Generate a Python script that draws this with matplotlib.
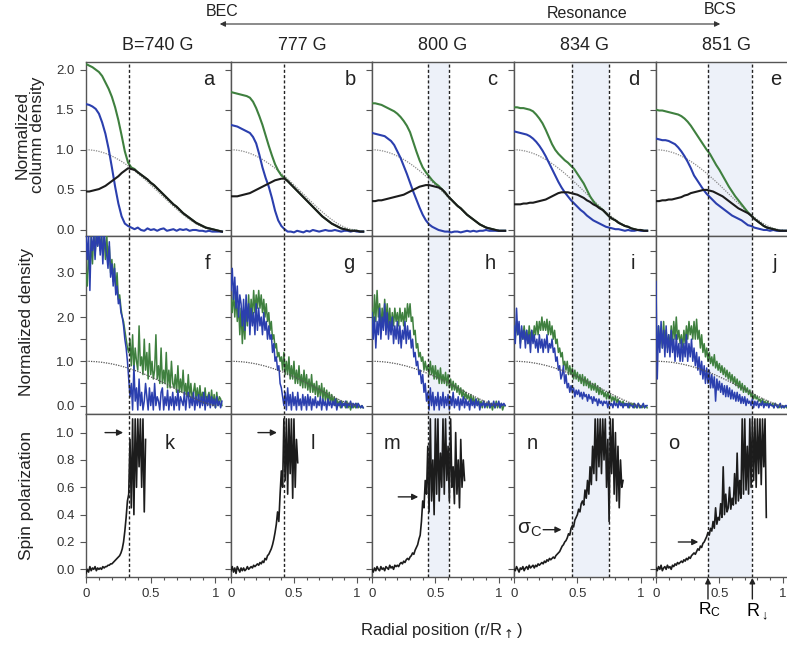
import numpy as np
import matplotlib
matplotlib.use("Agg")
import matplotlib.pyplot as plt
from matplotlib.ticker import MultipleLocator, FixedLocator

plt.rcParams['font.family'] = ['Liberation Sans', 'DejaVu Sans']

# ---------------- data ----------------
fields = ['B=740 G', '777 G', '800 G', '834 G', '851 G']
letters_top = ['a', 'b', 'c', 'd', 'e']
letters_mid = ['f', 'g', 'h', 'i', 'j']
letters_bot = ['k', 'l', 'm', 'n', 'o']
cut_lines = [[0.33], [0.42], [0.44, 0.61], [0.46, 0.75], [0.41, 0.76]]
shaded = [None, None, (0.44, 0.61), (0.46, 0.75), (0.41, 0.76)]

r_coarse = np.round(np.arange(0, 1.0501, 0.025), 3)   # 43 radii
r_fine = np.round(np.arange(0, 1.0501, 0.01), 3)      # 106 radii

# reference (non-interacting) profiles, column density and density
ref_col = [1.000, 0.999, 0.995, 0.989, 0.980, 0.969, 0.956, 0.940, 0.922, 0.901,
           0.879, 0.855, 0.828, 0.800, 0.770, 0.739, 0.706, 0.671, 0.636, 0.600,
           0.563, 0.525, 0.487, 0.448, 0.410, 0.371, 0.334, 0.296, 0.260, 0.225,
           0.191, 0.160, 0.130, 0.102, 0.077, 0.055, 0.036, 0.021, 0.010, 0.003,
           0.000]
ref_den = [1.000, 0.999, 0.996, 0.992, 0.985, 0.977, 0.966, 0.954, 0.941, 0.925,
           0.908, 0.889, 0.868, 0.846, 0.822, 0.797, 0.770, 0.742, 0.712, 0.681,
           0.650, 0.617, 0.583, 0.548, 0.512, 0.476, 0.439, 0.402, 0.364, 0.327,
           0.289, 0.252, 0.216, 0.180, 0.146, 0.113, 0.083, 0.055, 0.030, 0.011,
           0.000]

# Row 1: column densities (majority = green, minority = blue, difference = black)
green_a = [2.07, 2.05, 2.03, 2.00, 1.97, 1.92, 1.84, 1.76, 1.66, 1.53,
           1.37, 1.18, 0.98, 0.84, 0.78, 0.76, 0.72, 0.69, 0.66, 0.63,
           0.59, 0.56, 0.52, 0.48, 0.44, 0.40, 0.36, 0.32, 0.29, 0.25,
           0.21, 0.18, 0.15, 0.12, 0.09, 0.07, 0.05, 0.03, 0.02, 0.01,
           0.00, -0.01, -0.02]
black_a = [0.48, 0.48, 0.49, 0.50, 0.51, 0.53, 0.55, 0.58, 0.61, 0.64,
           0.67, 0.71, 0.74, 0.77, 0.76, 0.75, 0.72, 0.69, 0.66, 0.63,
           0.59, 0.56, 0.52, 0.48, 0.44, 0.40, 0.36, 0.32, 0.29, 0.25,
           0.21, 0.18, 0.15, 0.12, 0.09, 0.07, 0.05, 0.03, 0.02, 0.01,
           0.00, -0.01, -0.02]
blue_a = [1.57, 1.56, 1.54, 1.51, 1.45, 1.34, 1.20, 1.01, 0.78, 0.54,
          0.33, 0.17, 0.08, 0.05, 0.03, 0.01, 0.03, 0.00, -0.01, 0.02,
          0.00, 0.01, -0.01, 0.01, 0.02, -0.01, 0.00, 0.01, -0.01, 0.01,
          0.00, 0.01, -0.01, 0.00, 0.00, -0.01, -0.01, -0.02, -0.01, -0.02,
          -0.02, -0.02, -0.02]

green_b = [1.72, 1.71, 1.70, 1.69, 1.68, 1.67, 1.65, 1.60, 1.52, 1.42,
           1.31, 1.18, 1.05, 0.93, 0.82, 0.74, 0.68, 0.65, 0.61, 0.57,
           0.53, 0.49, 0.45, 0.41, 0.37, 0.33, 0.29, 0.25, 0.21, 0.17,
           0.14, 0.11, 0.08, 0.06, 0.04, 0.02, 0.01, 0.00, -0.01, -0.01,
           -0.01, -0.02, -0.02]
black_b = [0.42, 0.42, 0.42, 0.43, 0.44, 0.45, 0.46, 0.48, 0.50, 0.52,
           0.54, 0.56, 0.58, 0.60, 0.62, 0.63, 0.64, 0.64, 0.61, 0.57,
           0.53, 0.49, 0.45, 0.41, 0.37, 0.33, 0.29, 0.25, 0.21, 0.17,
           0.14, 0.11, 0.08, 0.06, 0.04, 0.02, 0.01, 0.00, -0.01, -0.01,
           -0.01, -0.02, -0.02]
blue_b = [1.31, 1.30, 1.29, 1.27, 1.25, 1.23, 1.21, 1.16, 1.08, 0.94,
          0.78, 0.65, 0.54, 0.40, 0.24, 0.12, 0.05, 0.01, -0.02, -0.02,
          -0.03, -0.01, -0.02, -0.03, -0.01, -0.02, 0.00, -0.01, -0.02, -0.01,
          0.00, -0.01, -0.01, 0.00, -0.01, -0.02, -0.01, -0.01, -0.02, -0.01,
          -0.02, -0.02, -0.02]

green_c = [1.58, 1.58, 1.57, 1.56, 1.54, 1.52, 1.50, 1.48, 1.45, 1.41,
           1.36, 1.30, 1.22, 1.10, 0.98, 0.87, 0.78, 0.72, 0.67, 0.62,
           0.58, 0.55, 0.51, 0.47, 0.42, 0.38, 0.34, 0.30, 0.27, 0.23,
           0.19, 0.16, 0.13, 0.10, 0.07, 0.05, 0.03, 0.02, 0.01, 0.00,
           -0.01, -0.01, -0.01]
black_c = [0.36, 0.36, 0.37, 0.37, 0.38, 0.39, 0.40, 0.41, 0.42, 0.43,
           0.44, 0.46, 0.48, 0.50, 0.52, 0.54, 0.55, 0.56, 0.56, 0.55,
           0.54, 0.53, 0.51, 0.47, 0.42, 0.38, 0.34, 0.30, 0.27, 0.23,
           0.19, 0.16, 0.13, 0.10, 0.07, 0.05, 0.03, 0.02, 0.01, 0.00,
           -0.01, -0.01, -0.01]
blue_c = [1.21, 1.20, 1.19, 1.18, 1.17, 1.14, 1.11, 1.06, 0.98, 0.90,
          0.80, 0.70, 0.59, 0.48, 0.38, 0.28, 0.19, 0.12, 0.07, 0.04,
          0.02, 0.00, -0.01, -0.02, -0.02, -0.03, -0.02, -0.02, -0.03, -0.02,
          -0.01, -0.02, -0.01, -0.02, -0.01, -0.01, 0.00, -0.01, -0.01, -0.01,
          -0.01, -0.01, -0.01]

green_d = [1.53, 1.53, 1.52, 1.52, 1.51, 1.50, 1.48, 1.44, 1.39, 1.33,
           1.25, 1.16, 1.07, 1.00, 0.95, 0.91, 0.87, 0.84, 0.80, 0.76,
           0.70, 0.64, 0.58, 0.50, 0.42, 0.36, 0.31, 0.28, 0.25, 0.21,
           0.17, 0.14, 0.12, 0.09, 0.07, 0.05, 0.04, 0.02, 0.01, 0.00,
           0.00, -0.01, -0.01]
black_d = [0.32, 0.32, 0.32, 0.33, 0.33, 0.34, 0.34, 0.35, 0.36, 0.37,
           0.38, 0.40, 0.42, 0.44, 0.46, 0.47, 0.47, 0.47, 0.46, 0.45,
           0.44, 0.42, 0.40, 0.37, 0.35, 0.32, 0.30, 0.27, 0.25, 0.21,
           0.17, 0.14, 0.12, 0.09, 0.07, 0.05, 0.04, 0.02, 0.01, 0.00,
           0.00, -0.01, -0.01]
blue_d = [1.23, 1.22, 1.21, 1.20, 1.19, 1.17, 1.14, 1.10, 1.05, 0.99,
          0.92, 0.84, 0.76, 0.68, 0.60, 0.53, 0.47, 0.42, 0.37, 0.33,
          0.29, 0.25, 0.22, 0.18, 0.15, 0.12, 0.10, 0.08, 0.06, 0.04,
          0.03, 0.02, 0.01, 0.01, 0.00, -0.01, 0.00, -0.01, -0.01, 0.00,
          -0.01, -0.01, -0.01]

green_e = [1.50, 1.49, 1.49, 1.48, 1.47, 1.46, 1.45, 1.44, 1.42, 1.39,
           1.35, 1.30, 1.24, 1.18, 1.12, 1.06, 1.00, 0.95, 0.88, 0.81,
           0.75, 0.68, 0.61, 0.54, 0.48, 0.42, 0.37, 0.32, 0.27, 0.22,
           0.18, 0.14, 0.11, 0.08, 0.05, 0.03, 0.02, 0.01, 0.00, -0.01,
           -0.01, -0.01, -0.01]
black_e = [0.36, 0.36, 0.37, 0.37, 0.38, 0.38, 0.39, 0.40, 0.41, 0.43,
           0.44, 0.46, 0.47, 0.48, 0.49, 0.50, 0.50, 0.49, 0.48, 0.46,
           0.44, 0.42, 0.39, 0.36, 0.33, 0.30, 0.27, 0.25, 0.23, 0.21,
           0.18, 0.14, 0.11, 0.08, 0.05, 0.03, 0.02, 0.01, 0.00, -0.01,
           -0.01, -0.01, -0.01]
blue_e = [1.14, 1.13, 1.12, 1.12, 1.11, 1.09, 1.07, 1.03, 0.98, 0.92,
          0.85, 0.77, 0.68, 0.62, 0.56, 0.50, 0.45, 0.41, 0.37, 0.33,
          0.30, 0.27, 0.24, 0.21, 0.18, 0.16, 0.14, 0.12, 0.09, 0.06,
          0.05, 0.03, 0.02, 0.01, 0.00, 0.00, -0.01, 0.00, -0.01, -0.01,
          -0.01, -0.01, -0.01]

# Row 2: reconstructed 3D densities (majority green, minority blue)
dgreen_f = [3.0, 2.7, 3.5, 2.9, 3.8, 3.2, 3.9, 3.4, 3.9, 3.6,
            3.9, 3.5, 3.9, 3.4, 3.8, 3.3, 3.9, 3.2, 3.6, 3.0,
            3.3, 2.8, 3.2, 2.6, 3.0, 2.4, 2.5, 2.2, 2.0, 1.9,
            1.7, 1.5, 1.3, 1.2, 1.5, 0.9, 1.6, 0.8, 1.3, 1.0,
            0.8, 1.8, 0.9, 1.1, 0.7, 1.5, 0.8, 1.2, 0.6, 1.4,
            0.7, 1.0, 0.6, 0.8, 1.6, 0.6, 0.9, 0.5, 1.3, 0.5,
            0.8, 0.5, 1.2, 0.4, 0.8, 0.4, 1.0, 0.5, 0.4, 0.7,
            0.3, 0.9, 0.3, 0.6, 0.3, 0.8, 0.25, 0.5, 0.2, 0.7,
            0.2, 0.5, 0.15, 0.3, 0.5, 0.15, 0.4, 0.1, 0.45, 0.1,
            0.3, 0.05, 0.4, 0.05, 0.2, 0.3, 0.0, 0.35, 0.0, 0.25,
            -0.05, 0.3, 0.0, 0.2, 0.15, 0.0]
dblue_f = [3.9, 3.3, 3.9, 2.6, 3.8, 3.5, 3.9, 3.3, 3.9, 3.6,
           3.9, 3.4, 3.9, 3.2, 3.9, 3.6, 3.4, 3.1, 3.7, 2.9,
           3.2, 2.7, 3.1, 2.5, 2.7, 2.3, 2.4, 2.1, 2.0, 1.8,
           1.5, 1.3, 1.0, 0.6, 0.2, 0.5, -0.1, 0.9, 0.1, 0.4,
           -0.1, 0.6, 0.0, 0.3, -0.1, 0.1, 0.5, 0.2, -0.1, 0.4,
           0.0, 0.3, -0.1, 0.5, 0.0, 0.2, 0.1, -0.1, 0.3, 0.4,
           -0.1, 0.2, 0.0, 0.35, -0.1, 0.2, 0.0, 0.3, -0.1, 0.2,
           0.0, 0.35, -0.1, 0.2, 0.1, 0.0, 0.3, -0.1, 0.2, 0.3,
           -0.05, 0.2, 0.0, 0.3, -0.1, 0.2, 0.0, 0.25, -0.05, 0.2,
           0.0, 0.3, -0.1, 0.2, 0.0, 0.25, -0.05, 0.2, 0.0, 0.15,
           -0.05, 0.2, 0.0, 0.1, -0.05, 0.1]

dgreen_g = [2.4, 2.1, 2.6, 2.0, 2.5, 1.9, 2.3, 1.6, 2.2, 1.4,
            2.0, 1.5, 2.3, 1.8, 2.5, 1.9, 2.4, 2.0, 2.6, 2.1,
            2.5, 2.2, 2.6, 2.2, 2.5, 2.1, 2.4, 2.0, 2.3, 1.9,
            2.1, 1.7, 1.9, 1.5, 1.6, 1.3, 1.4, 1.1, 1.2, 1.0,
            1.1, 0.8, 1.2, 0.7, 1.0, 0.7, 1.1, 0.6, 0.9, 0.6,
            1.0, 0.5, 0.8, 0.5, 0.9, 0.45, 0.7, 0.4, 0.8, 0.4,
            0.7, 0.35, 0.6, 0.3, 0.7, 0.3, 0.5, 0.25, 0.55, 0.2,
            0.45, 0.2, 0.5, 0.15, 0.4, 0.1, 0.35, 0.1, 0.3, 0.05,
            0.25, 0.05, 0.2, 0.0, 0.15, 0.0, 0.1, -0.05, 0.1, 0.0,
            0.05, -0.05, 0.1, -0.05, 0.05, -0.1, 0.05, -0.05, 0.0, -0.05,
            0.05, -0.05, 0.0, -0.05, 0.0, -0.05]
dblue_g = [2.6, 3.1, 2.4, 2.9, 2.2, 2.7, 2.0, 2.5, 2.3, 1.8,
           2.4, 1.7, 2.5, 1.9, 2.3, 1.6, 2.2, 1.8, 2.1, 1.6,
           2.3, 1.7, 2.2, 1.8, 2.0, 1.6, 2.1, 1.7, 1.9, 1.5,
           1.8, 1.5, 1.6, 1.2, 1.4, 1.0, 1.1, 0.8, 0.9, 0.5,
           0.4, 0.2, 0.0, 0.3, -0.1, 0.4, 0.0, 0.25, -0.1, 0.3,
           0.0, 0.2, -0.1, 0.3, 0.0, 0.15, -0.1, 0.25, 0.0, 0.2,
           -0.1, 0.25, 0.0, 0.2, -0.1, 0.15, 0.0, 0.2, -0.05, 0.1,
           0.0, 0.2, -0.1, 0.15, 0.0, 0.1, -0.1, 0.15, 0.0, 0.1,
           -0.05, 0.1, 0.0, 0.15, -0.1, 0.05, 0.0, 0.1, -0.05, 0.05,
           0.0, 0.1, -0.05, 0.05, 0.0, 0.1, -0.05, 0.05, 0.0, 0.05,
           -0.05, 0.05, 0.0, -0.05, 0.0, -0.05]

dgreen_h = [2.2, 1.8, 2.5, 1.9, 2.6, 2.0, 2.3, 1.7, 2.2, 1.8,
            2.4, 1.9, 2.3, 1.8, 2.2, 1.7, 2.1, 1.8, 2.2, 1.9,
            2.1, 1.8, 2.2, 1.9, 2.1, 1.8, 2.2, 1.9, 2.3, 2.0,
            2.3, 1.9, 2.0, 1.6, 1.7, 1.3, 1.4, 1.1, 1.2, 1.0,
            1.1, 0.8, 1.0, 0.8, 0.9, 0.7, 1.0, 0.7, 0.9, 0.6,
            0.9, 0.6, 0.8, 0.5, 0.85, 0.5, 0.7, 0.5, 0.75, 0.45,
            0.7, 0.4, 0.6, 0.35, 0.55, 0.35, 0.5, 0.3, 0.45, 0.25,
            0.4, 0.2, 0.35, 0.15, 0.3, 0.15, 0.25, 0.1, 0.25, 0.05,
            0.2, 0.05, 0.15, 0.0, 0.15, 0.0, 0.1, -0.05, 0.1, 0.0,
            0.05, -0.05, 0.1, -0.05, 0.05, -0.1, 0.05, -0.05, 0.1, -0.05,
            0.05, -0.05, 0.05, -0.1, 0.0, 0.0]
dblue_h = [2.1, 1.5, 2.0, 1.3, 1.9, 1.6, 2.2, 1.5, 2.0, 1.7,
           2.3, 1.6, 2.1, 1.5, 1.9, 1.6, 2.0, 1.4, 1.8, 1.5,
           1.9, 1.4, 1.8, 1.3, 1.7, 1.5, 1.9, 1.4, 1.8, 1.5,
           1.7, 1.3, 1.5, 1.1, 1.2, 0.9, 1.0, 0.7, 0.8, 0.5,
           0.7, 0.3, 0.5, 0.1, 0.3, -0.1, 0.4, 0.0, 0.3, -0.1,
           0.2, 0.0, 0.3, -0.1, 0.2, 0.0, 0.3, -0.05, 0.2, 0.0,
           0.25, -0.1, 0.2, 0.0, 0.3, -0.05, 0.15, 0.0, 0.2, -0.1,
           0.15, 0.0, 0.2, -0.05, 0.15, 0.0, 0.1, -0.1, 0.15, 0.0,
           0.1, -0.05, 0.15, 0.0, 0.1, -0.1, 0.05, 0.0, 0.1, -0.05,
           0.05, 0.0, 0.1, -0.05, 0.05, 0.0, 0.1, -0.05, 0.05, 0.0,
           0.1, -0.05, 0.05, 0.0, 0.05, 0.0]

dgreen_i = [1.8, 1.5, 1.9, 1.6, 1.8, 1.4, 1.7, 1.5, 1.8, 1.5,
            1.7, 1.4, 1.8, 1.5, 1.7, 1.5, 1.8, 1.6, 1.9, 1.6,
            1.9, 1.7, 2.0, 1.7, 1.9, 1.7, 1.95, 1.6, 1.9, 1.6,
            1.8, 1.5, 1.7, 1.4, 1.5, 1.2, 1.3, 1.1, 1.2, 0.9,
            1.0, 0.8, 1.0, 0.7, 0.9, 0.7, 0.85, 0.6, 0.8, 0.6,
            0.75, 0.55, 0.7, 0.5, 0.7, 0.45, 0.65, 0.45, 0.6, 0.4,
            0.55, 0.35, 0.5, 0.35, 0.5, 0.3, 0.45, 0.25, 0.4, 0.25,
            0.35, 0.2, 0.3, 0.15, 0.3, 0.15, 0.25, 0.1, 0.2, 0.1,
            0.2, 0.05, 0.15, 0.05, 0.1, 0.0, 0.1, 0.0, 0.05, 0.0,
            0.05, -0.05, 0.05, 0.0, 0.05, -0.05, 0.0, -0.05, 0.05, -0.05,
            0.0, -0.05, 0.0, -0.05, 0.0, -0.05]
dblue_i = [1.8, 1.4, 2.2, 1.6, 1.9, 1.3, 1.8, 1.5, 1.7, 1.3,
           1.7, 1.4, 1.6, 1.2, 1.7, 1.4, 1.6, 1.3, 1.5, 1.2,
           1.6, 1.3, 1.5, 1.2, 1.5, 1.3, 1.6, 1.2, 1.4, 1.3,
           1.5, 1.2, 1.3, 1.0, 1.1, 0.8, 0.9, 0.6, 0.7, 0.9,
           0.5, 0.7, 0.4, 0.5, 0.3, 0.45, 0.3, 0.4, 0.2, 0.35,
           0.25, 0.35, 0.2, 0.3, 0.15, 0.3, 0.2, 0.25, 0.1, 0.25,
           0.15, 0.2, 0.05, 0.2, 0.1, 0.15, 0.0, 0.15, 0.05, 0.1,
           0.0, 0.1, 0.05, 0.1, -0.05, 0.1, 0.0, 0.05, -0.05, 0.1,
           0.0, 0.05, -0.05, 0.1, 0.0, 0.05, -0.05, 0.05, 0.0, 0.05,
           -0.05, 0.05, 0.0, 0.0, -0.05, 0.05, 0.0, -0.05, 0.05, 0.0,
           -0.05, 0.0, 0.05, -0.05, 0.0, 0.0]

dgreen_j = [1.6, 1.3, 1.8, 1.4, 1.7, 1.3, 1.9, 1.4, 1.7, 1.3,
            1.6, 1.3, 1.8, 1.4, 1.9, 1.5, 2.0, 1.5, 1.7, 1.4,
            1.6, 1.3, 1.7, 1.4, 1.8, 1.5, 1.9, 1.6, 1.8, 1.5,
            1.9, 1.5, 1.95, 1.5, 1.7, 1.3, 1.6, 1.2, 1.4, 1.1,
            1.3, 1.0, 1.2, 0.95, 1.1, 0.9, 1.15, 0.85, 1.0, 0.8,
            0.95, 0.75, 0.9, 0.7, 0.85, 0.65, 0.8, 0.6, 0.75, 0.55,
            0.7, 0.5, 0.65, 0.45, 0.6, 0.4, 0.55, 0.35, 0.5, 0.3,
            0.45, 0.3, 0.4, 0.25, 0.35, 0.2, 0.3, 0.15, 0.25, 0.15,
            0.2, 0.1, 0.15, 0.05, 0.15, 0.05, 0.1, 0.0, 0.1, 0.0,
            0.05, 0.0, 0.05, -0.05, 0.05, 0.0, 0.0, -0.05, 0.0, -0.05,
            0.0, -0.05, 0.0, -0.05, 0.0, -0.05]
dblue_j = [2.8, 0.6, 1.8, 1.2, 1.9, 1.3, 1.7, 1.1, 1.8, 1.2,
           1.6, 1.1, 1.7, 1.2, 1.5, 1.0, 1.6, 1.1, 1.4, 1.0,
           1.5, 1.0, 1.4, 1.1, 1.6, 1.0, 1.4, 1.1, 1.5, 1.0,
           1.3, 0.9, 1.2, 0.8, 1.1, 0.7, 1.0, 0.6, 0.9, 0.5,
           0.85, 0.5, 0.8, 0.4, 0.7, 0.4, 0.65, 0.1, 0.6, 0.35,
           0.55, 0.3, 0.5, 0.25, 0.45, 0.2, 0.45, 0.2, 0.4, 0.15,
           0.35, 0.15, 0.3, 0.1, 0.3, 0.1, 0.25, 0.05, 0.2, 0.05,
           0.2, 0.0, 0.15, 0.05, 0.1, 0.0, 0.15, -0.05, 0.1, 0.0,
           0.1, -0.05, 0.05, 0.0, 0.1, -0.05, 0.05, 0.0, 0.05, -0.05,
           0.05, 0.0, 0.0, -0.05, 0.05, 0.0, -0.05, 0.0, 0.05, -0.05,
           0.0, -0.05, 0.0, 0.0, -0.05, 0.0]

# Row 3: spin polarization
spin_k = [-0.03, 0.0, -0.02, 0.02, -0.01, 0.01, 0.0, 0.02, -0.01, 0.01,
          0.0, 0.01, 0.0, 0.02, 0.01, 0.02, 0.02, 0.03, 0.03, 0.04,
          0.04, 0.05, 0.06, 0.07, 0.08, 0.09, 0.10, 0.12, 0.15, 0.20,
          0.28, 0.38, 0.50, 0.55, 0.95, 0.45, 1.10, 0.40, 1.10, 0.60,
          1.10, 0.75, 1.10, 0.60, 1.10, 0.42, 0.95]
spin_l = [-0.01, 0.02, -0.02, 0.01, -0.03, 0.02, 0.0, -0.02, 0.01, -0.01,
          0.01, -0.01, 0.0, 0.02, 0.0, 0.01, 0.02, 0.01, 0.03, 0.02,
          0.03, 0.04, 0.03, 0.05, 0.04, 0.06, 0.05, 0.08, 0.07, 0.10,
          0.11, 0.13, 0.15, 0.18, 0.22, 0.27, 0.33, 0.42, 0.35, 0.55,
          0.72, 0.60, 1.10, 0.65, 1.10, 0.55, 1.10, 0.70, 1.10, 0.52,
          1.10, 0.60, 0.95, 0.78]
spin_m = [0.0, -0.02, 0.01, -0.01, 0.02, 0.0, -0.01, 0.02, 0.0, 0.01,
          -0.01, 0.02, 0.01, 0.0, 0.03, 0.01, 0.02, 0.0, 0.03, 0.02,
          0.03, 0.02, 0.04, 0.05, 0.04, 0.06, 0.05, 0.07, 0.08, 0.07,
          0.09, 0.10, 0.12, 0.11, 0.14, 0.16, 0.18, 0.22, 0.25, 0.35,
          0.50, 0.45, 0.65, 0.55, 0.90, 0.42, 1.10, 0.50, 0.80, 0.40,
          1.10, 0.55, 1.10, 0.50, 0.85, 0.60, 1.10, 0.55, 1.10, 0.65,
          0.90, 0.50, 1.10, 0.60, 0.75, 0.48, 1.00, 0.55, 0.80, 0.45,
          0.95, 0.60, 0.80, 0.65]
spin_n = [0.0, -0.01, 0.02, 0.0, -0.02, 0.01, 0.0, 0.02, -0.01, 0.01,
          0.02, 0.0, 0.03, 0.01, 0.02, 0.03, 0.01, 0.03, 0.02, 0.04,
          0.03, 0.04, 0.05, 0.04, 0.06, 0.05, 0.07, 0.06, 0.08, 0.07,
          0.08, 0.09, 0.08, 0.10, 0.11, 0.12, 0.13, 0.15, 0.17, 0.18,
          0.20, 0.21, 0.23, 0.26, 0.25, 0.30, 0.32, 0.31, 0.36, 0.38,
          0.40, 0.44, 0.42, 0.48, 0.50, 0.47, 0.58, 0.52, 0.65, 0.55,
          0.75, 0.62, 0.90, 0.70, 1.10, 0.65, 1.10, 0.75, 1.10, 0.70,
          1.10, 0.80, 1.10, 0.60, 0.95, 0.35, 1.10, 0.70, 1.10, 0.55,
          1.00, 0.50, 0.90, 0.45, 0.80, 0.60, 0.65]
spin_o = [0.01, -0.01, 0.02, 0.0, 0.03, -0.01, 0.01, 0.02, 0.0, 0.03,
          0.01, 0.02, 0.0, 0.03, 0.02, 0.04, 0.03, 0.05, 0.04, 0.05,
          0.06, 0.05, 0.07, 0.06, 0.08, 0.07, 0.09, 0.08, 0.10, 0.11,
          0.12, 0.11, 0.13, 0.15, 0.14, 0.17, 0.16, 0.19, 0.20, 0.22,
          0.24, 0.27, 0.25, 0.30, 0.28, 0.35, 0.30, 0.45, 0.33, 0.38,
          0.36, 0.48, 0.38, 0.75, 0.40, 0.55, 0.42, 0.45, 0.60, 0.44,
          0.52, 0.47, 0.70, 0.48, 0.85, 0.50, 0.65, 0.52, 1.10, 0.55,
          1.10, 0.58, 0.90, 0.55, 1.10, 0.60, 1.10, 0.65, 1.10, 0.60,
          1.10, 0.70, 1.10, 0.62, 1.10, 0.75, 1.10, 0.38]

greens_col = [green_a, green_b, green_c, green_d, green_e]
blacks_col = [black_a, black_b, black_c, black_d, black_e]
blues_col = [blue_a, blue_b, blue_c, blue_d, blue_e]
greens_den = [dgreen_f, dgreen_g, dgreen_h, dgreen_i, dgreen_j]
blues_den = [dblue_f, dblue_g, dblue_h, dblue_i, dblue_j]
spins = [spin_k, spin_l, spin_m, spin_n, spin_o]

# ---------------- styling ----------------
GREEN = '#3f803f'
BLUE = '#2b3fae'
BLACK = '#1c1c1c'
SHADE = '#edf1f9'
SPINE = '#555555'

W, H = 787, 647
fig = plt.figure(figsize=(W / 100, H / 100), dpi=100)

lefts = [86, 231, 372, 514, 656]
widths = [145, 141, 142, 142, 142]
rows = [(62, 236), (236, 414), (414, 577)]
ylims = [(-0.075, 2.095), (-0.19, 3.83), (-0.056, 1.136)]


def make_ax(row, col):
    t, b = rows[row]
    ax = fig.add_axes([lefts[col] / W, 1 - b / H, widths[col] / W, (b - t) / H])
    ax.set_xlim(0, 1.12)
    ax.set_ylim(*ylims[row])
    for s in ax.spines.values():
        s.set_color(SPINE)
        s.set_linewidth(1.0)
    ax.xaxis.set_major_locator(FixedLocator([0, 0.5, 1.0]))
    ax.xaxis.set_minor_locator(MultipleLocator(0.1))
    ax.tick_params(which='both', direction='out', colors=SPINE, labelcolor='#333333',
                   labelsize=9.5, width=0.8, top=False, right=False)
    ax.tick_params(which='major', length=4.5)
    ax.tick_params(which='minor', length=2.5)
    if row < 2:
        ax.tick_params(axis='x', labelbottom=False)
    else:
        ax.set_xticklabels(['0', '0.5', '1'])
    if shaded[col] is not None:
        ax.axvspan(shaded[col][0], shaded[col][1], color=SHADE, zorder=0, lw=0)
    for xc in cut_lines[col]:
        ax.axvline(xc, color='#222222', lw=1.0, ls=(0, (2.2, 1.6)), zorder=6)
    return ax


axes = [[make_ax(r, c) for c in range(5)] for r in range(3)]

for c in range(5):
    # row 1
    ax = axes[0][c]
    ax.plot(r_coarse[:len(ref_col)], ref_col, color='#8a8a8a', lw=0.9, ls=(0, (1, 1)), zorder=2)
    ax.plot(r_coarse, greens_col[c], color=GREEN, lw=1.5, zorder=3)
    ax.plot(r_coarse, blues_col[c], color=BLUE, lw=1.5, zorder=3)
    ax.plot(r_coarse, blacks_col[c], color=BLACK, lw=1.5, zorder=4)
    ax.set_yticks([0, 0.5, 1.0, 1.5, 2.0])
    if c == 0:
        ax.set_yticklabels(['0.0', '0.5', '1.0', '1.5', '2.0'])
    else:
        ax.tick_params(axis='y', labelleft=False)
    ax.text(0.845, 0.9, letters_top[c], transform=ax.transAxes, fontsize=14.5,
            ha='center', va='center', color='#222222')

    # row 2
    ax = axes[1][c]
    ax.plot(r_fine[:len(greens_den[c])], greens_den[c], color=GREEN, lw=1.1, zorder=3)
    ax.plot(r_fine[:len(blues_den[c])], blues_den[c], color=BLUE, lw=1.1, zorder=4)
    ax.plot(r_coarse[:len(ref_den)], ref_den, color='#555555', lw=0.9, ls=(0, (1, 1)), zorder=5)
    ax.set_yticks([0, 0.5, 1.0, 1.5, 2.0, 2.5, 3.0, 3.5])
    if c == 0:
        ax.set_yticklabels(['0.0', '', '1.0', '', '2.0', '', '3.0', ''])
    else:
        ax.tick_params(axis='y', labelleft=False)
    ax.text(0.835, 0.845, letters_mid[c], transform=ax.transAxes, fontsize=14.5,
            ha='center', va='center', color='#222222')

    # row 3
    ax = axes[2][c]
    ax.plot(r_fine[:len(spins[c])], spins[c], color=BLACK, lw=1.2, zorder=4)
    ax.set_yticks([0, 0.2, 0.4, 0.6, 0.8, 1.0])
    if c == 0:
        ax.set_yticklabels(['0.0', '0.2', '0.4', '0.6', '0.8', '1.0'])
    else:
        ax.tick_params(axis='y', labelleft=False)

# row-3 letters
let_pos = [(0.58, 0.82), (0.584, 0.82), (0.139, 0.82), (0.125, 0.82), (0.122, 0.82)]
for c in range(5):
    axes[2][c].text(let_pos[c][0], let_pos[c][1], letters_bot[c], transform=axes[2][c].transAxes,
                    fontsize=14.5, ha='center', va='center', color='#222222')

# critical polarization arrows
arrow_specs = [(0.147, 0.287, 1.0), (0.214, 0.365, 1.0), (0.207, 0.365, 0.53),
               (0.23, 0.375, 0.29), (0.176, 0.334, 0.20)]
for c, (x0, x1, yv) in enumerate(arrow_specs):
    axes[2][c].annotate('', xy=(x1, yv), xytext=(x0, yv),
                        arrowprops=dict(arrowstyle='-|>', color='#222222', lw=1.0,
                                        mutation_scale=9, shrinkA=0, shrinkB=0), zorder=7)
axes[2][3].text(0.125, 0.29, r'$\mathregular{\sigma_C}$', fontsize=15, ha='center',
                va='center', color='#222222')

# R_c and R_down markers below panel o
ax_o = axes[2][4]
for xr in cut_lines[4]:
    ax_o.annotate('', xy=(xr, -0.005), xycoords=('data', 'axes fraction'),
                  xytext=(xr, -0.135), textcoords=('data', 'axes fraction'),
                  arrowprops=dict(arrowstyle='-|>', color='#222222', lw=1.0,
                                  mutation_scale=8, shrinkA=0, shrinkB=0),
                  annotation_clip=False)
ax_o.text(0.425, -0.2, r'$\mathregular{R_C}$', transform=ax_o.get_xaxis_transform(),
          fontsize=12.5, ha='center', va='center', clip_on=False)
ax_o.text(0.80, -0.21, r'$\mathregular{R_{\downarrow}}$', transform=ax_o.get_xaxis_transform(),
          fontsize=13, ha='center', va='center', clip_on=False)

# titles
centers = [158, 302, 443, 585, 727]
for c in range(5):
    fig.text(centers[c] / W, 1 - 45 / H, fields[c], fontsize=13, ha='center', va='center',
             color='#222222')

# regime annotation
fig.text(222 / W, 1 - 12 / H, 'BEC', fontsize=11.5, ha='center', va='center', color='#222222')
fig.text(587 / W, 1 - 13 / H, 'Resonance', fontsize=11.5, ha='center', va='center', color='#222222')
fig.text(720 / W, 1 - 10 / H, 'BCS', fontsize=11.5, ha='center', va='center', color='#222222')
fig.add_artist(matplotlib.patches.FancyArrowPatch(
    (217 / W, 1 - 24 / H), (723 / W, 1 - 24 / H), transform=fig.transFigure,
    arrowstyle='<|-|>', mutation_scale=8, lw=0.8, color='#333333'))

# axis labels
fig.text(30 / W, 1 - 135 / H, 'Normalized\ncolumn density', rotation=90, fontsize=12.5,
         ha='center', va='center', linespacing=1.05, color='#222222')
fig.text(27 / W, 1 - 322 / H, 'Normalized density', rotation=90, fontsize=12.5,
         ha='center', va='center', color='#222222')
fig.text(27 / W, 1 - 496 / H, 'Spin polarization', rotation=90, fontsize=12.5,
         ha='center', va='center', color='#222222')
fig.text(441 / W, 1 - 630 / H, r'Radial position (r/R$_{\uparrow}$)', fontsize=12,
         ha='center', va='center', color='#222222')

fig.savefig('out.png', dpi=100)
